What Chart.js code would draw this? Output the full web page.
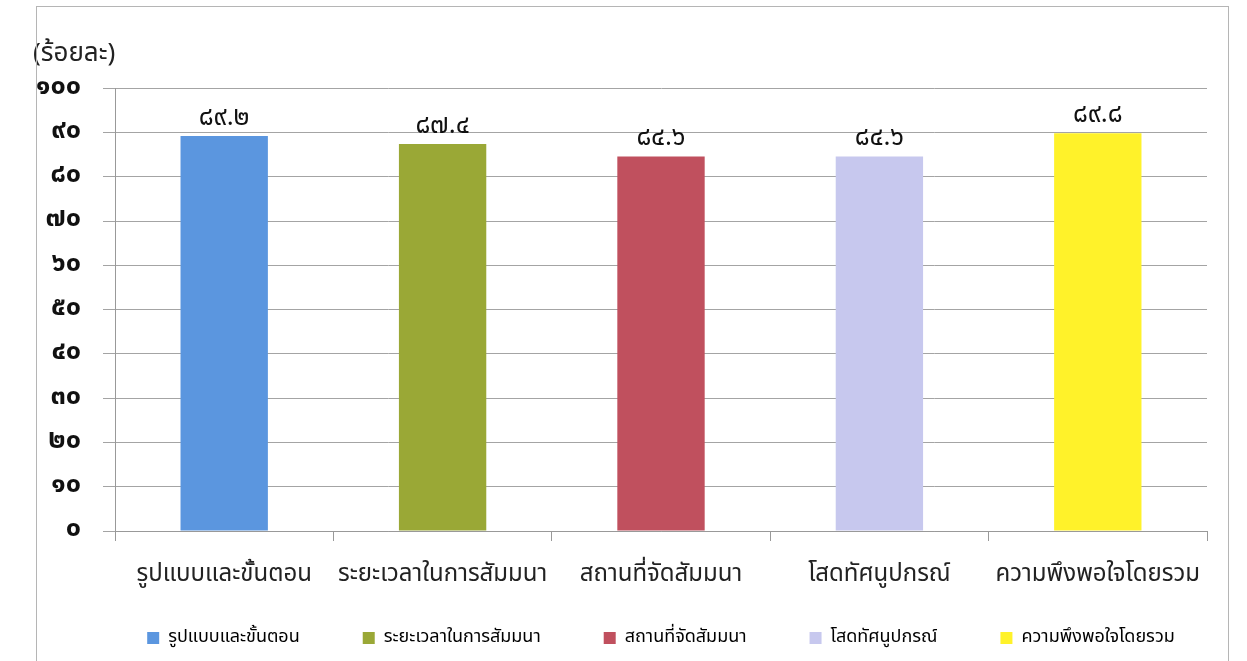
<!DOCTYPE html>
<html>
<head>
<meta charset="utf-8">
<script src="https://cdn.jsdelivr.net/npm/chart.js@4"></script>
<style>
  body { margin: 0; background: #fff; }
  #wrap { position: relative; width: 1247px; height: 661px; }
  #frame { position: absolute; left: 36px; top: 6px; width: 1191px; height: 700px; border: 1px solid #b5b5b5; pointer-events: none; }
</style>
</head>
<body>
<div id="wrap">
  <canvas id="grafica" width="1247" height="661"></canvas>
  <div id="frame"></div>
</div>
<script>
// Datos
const categorias = ['รูปแบบและขั้นตอน', 'ระยะเวลาในการสัมมนา', 'สถานที่จัดสัมมนา', 'โสดทัศนูปกรณ์', 'ความพึงพอใจโดยรวม'];
const valores = [89.2, 87.4, 84.6, 84.6, 89.8];
const colores = ['#5B96DF', '#9AA836', '#C0505E', '#C7C8EE', '#FFF22A'];
const ejeMin = 0;
const ejeMax = 100;
const ejePaso = 10;
const tituloEje = '(ร้อยละ)';

const fuente = "'Noto Sans Thai', 'Noto Sans', 'DejaVu Sans', sans-serif";
const espacio = '\u2003\u2003\u2002'; // separación extra entre items de la leyenda

// números arábigos -> dígitos tailandeses
function thai(n) {
    return String(n).replace(/[0-9]/g, d => '๐๑๒๓๔๕๖๗๘๙'[d]);
}

// Etiquetas encima de cada barra
const etiquetas = {
    id: 'etiquetas',
    afterDatasetsDraw(chart) {
        const ctx = chart.ctx;
        const meta = chart.getDatasetMeta(0);
        ctx.save();
        ctx.font = '26px ' + fuente;
        ctx.fillStyle = '#111';
        ctx.textAlign = 'center';
        ctx.textBaseline = 'alphabetic';
        meta.data.forEach((bar, i) => {
            ctx.fillText(thai(valores[i].toFixed(1)), bar.x, bar.y - 11);
        });
        ctx.restore();
    }
};

const ctx = document.getElementById('grafica');
new Chart(ctx, {
    type: 'bar',
    data: {
        labels: categorias,
        datasets: [{
            label: tituloEje,
            data: valores,
            backgroundColor: colores,
            categoryPercentage: 1,
            barPercentage: 0.4
        }]
    },
    options: {
        responsive: false,
        animation: false,
        layout: { padding: { left: 33, right: 40, top: 0, bottom: 4 } },
        plugins: {
            title: {
                display: true,
                text: tituloEje,
                align: 'start',
                color: '#222',
                font: { family: fuente, size: 26, weight: 'normal' },
                padding: { top: 40, bottom: 17 }
            },
            legend: {
                position: 'bottom',
                fullSize: false,
                labels: {
                    color: '#222',
                    font: { family: fuente, size: 18 },
                    boxWidth: 12,
                    boxHeight: 12,
                    padding: 18,
                    generateLabels: chart => categorias.map((c, i) => ({
                        text: i < categorias.length - 1 ? c + espacio : c,
                        fillStyle: colores[i],
                        strokeStyle: colores[i],
                        lineWidth: 0,
                        index: i
                    }))
                },
                onClick: () => {}
            },
            tooltip: { enabled: false }
        },
        scales: {
            x: {
                afterFit: scale => { scale.height = 80; },
                grid: { drawOnChartArea: false, tickLength: 10, color: '#999' },
                border: { color: '#999' },
                ticks: {
                    color: '#222',
                    padding: 21,
                    font: { family: fuente, size: 24 }
                }
            },
            y: {
                min: ejeMin,
                max: ejeMax,
                afterFit: scale => { scale.width = 82; },
                grid: { color: '#a4a4a4', tickLength: 12 },
                border: { color: '#999' },
                ticks: {
                    stepSize: ejePaso,
                    color: '#111',
                    padding: 22,
                    font: { family: fuente, size: 27, weight: 'bold' },
                    callback: v => thai(v)
                }
            }
        }
    },
    plugins: [etiquetas]
});
</script>
</body>
</html>
